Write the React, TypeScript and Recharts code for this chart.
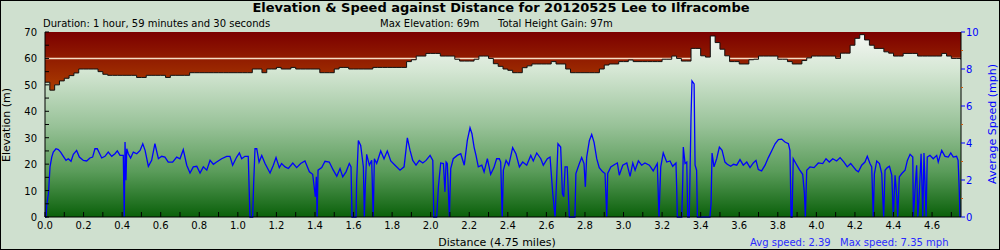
import { ComposedChart, Area, Line, XAxis, YAxis, CartesianGrid } from 'recharts'

const FONT = '"DejaVu Sans", Verdana, sans-serif'
const BLUE = '#0000ff'

// elevation (m) sampled every 0.025 miles from 0 to 4.75
const ELEV_STEP = 0.025
const elevationM = [
  51, 48, 50, 51.5, 52.5, 53.5, 54.5, 56, 56, 56,
  56, 55, 54, 53.6, 53.6, 53.6, 53.6, 53.6, 53.6, 52.8,
  52.8, 53.6, 53.6, 53.6, 53.6, 52.8, 53.6, 53.6, 53.6, 53.6,
  54.6, 54.6, 54.6, 54.6, 54.6, 54.6, 54.6, 54.6, 54.6, 54.6,
  54.6, 54.6, 54.6, 56, 56, 54.6, 56, 56, 56.6, 56,
  56, 56.6, 56, 56, 56, 56, 56, 54.6, 54.6, 54.6,
  56, 56.6, 56.6, 56, 56, 56, 56, 56, 56.6, 56.6,
  56.6, 56.6, 56.6, 56.6, 56.6, 58.8, 59.5, 60.9, 60.9, 61.9,
  61.9, 61.9, 60.9, 60.9, 60.9, 59.7, 59, 59, 59, 59.7,
  60.9, 60.9, 60, 58, 57, 56, 55.5, 54.6, 54.6, 56.5,
  57.2, 57.9, 57.9, 57.9, 57.9, 58.8, 57.9, 57.9, 56, 54.6,
  54.6, 54.6, 54.6, 54.6, 54.6, 56, 57.5, 57.9, 57.9, 58.8,
  58.8, 59.4, 58.8, 58.8, 58.8, 58.8, 58.8, 58.8, 59.7, 59.7,
  60.9, 60, 59, 59, 63.8, 63.8, 61, 60.5, 68.5, 66,
  63.5, 61, 58.8, 58.8, 57.9, 57.9, 59.5, 59.7, 60.9, 60.9,
  60.9, 60.9, 59.7, 59.7, 58.8, 57.9, 57.9, 59.2, 60.2, 60.9,
  60.9, 60.9, 60.9, 60.9, 60, 62, 62, 65, 67.6, 69,
  67, 65, 63.8, 63.8, 62.5, 62, 60.9, 60.9, 61.9, 61.9,
  61.9, 60.9, 60.9, 60.9, 60.9, 60.9, 61.9, 60.9, 60, 60,
  59.5,
]

// [distance (miles), average speed (mph)]
const speedTrack: [number, number][] = [
  [0, 0], [0.005, 0], [0.01, 0.73], [0.018, 1.27], [0.026, 2.71], [0.035, 3.24], [0.043, 3.51],
  [0.057, 3.69], [0.069, 3.64], [0.081, 3.51], [0.095, 3.28], [0.109, 3.06], [0.121, 3.15],
  [0.135, 3.01], [0.147, 3.39], [0.164, 3.6], [0.178, 3.24], [0.199, 3.06], [0.216, 3.03],
  [0.233, 3.19], [0.247, 3.24], [0.259, 3.69], [0.271, 3.69], [0.294, 3.19], [0.311, 3.28],
  [0.328, 3.51], [0.346, 3.28], [0.363, 3.42], [0.375, 3.57], [0.389, 3.33], [0.406, 3.33],
  [0.411, 0], [0.415, 4.05], [0.42, 1.99], [0.424, 3.69], [0.432, 3.42], [0.444, 3.19],
  [0.458, 3.51], [0.476, 3.42], [0.493, 3.6], [0.507, 3.96], [0.519, 3.6], [0.536, 2.74],
  [0.553, 3.06], [0.57, 3.96], [0.588, 3.15], [0.605, 3.28], [0.622, 3.24], [0.639, 2.97],
  [0.662, 2.97], [0.683, 3.24], [0.7, 3.15], [0.717, 3.64], [0.735, 2.8], [0.752, 2.38],
  [0.769, 2.71], [0.787, 2.74], [0.804, 2.38], [0.821, 2.71], [0.839, 2.53], [0.856, 3.06],
  [0.873, 2.85], [0.89, 2.97], [0.916, 3.15], [0.942, 3.28], [0.959, 3.28], [0.973, 2.8],
  [0.994, 3.24], [1.008, 3.46], [1.02, 3.15], [1.037, 3.28], [1.054, 3.28], [1.059, 1.4],
  [1.063, 0], [1.077, 0], [1.082, 1.81], [1.089, 3.69], [1.098, 3.69], [1.11, 2.97],
  [1.124, 3.33], [1.141, 2.89], [1.167, 2.38], [1.184, 2.8], [1.198, 3.21], [1.215, 2.67],
  [1.227, 2.89], [1.245, 2.71], [1.262, 2.62], [1.285, 2.92], [1.305, 2.67], [1.326, 2.89],
  [1.348, 3.03], [1.371, 2.44], [1.388, 2.31], [1.402, 1.09], [1.407, 2.17], [1.411, 0],
  [1.416, 2.53], [1.435, 2.67], [1.452, 3.01], [1.474, 2.97], [1.495, 2.53], [1.513, 2.2],
  [1.53, 2.62], [1.544, 2.17], [1.561, 2.44], [1.578, 2.89], [1.587, 2.71], [1.592, 0],
  [1.613, 0], [1.616, 1.9], [1.625, 4.14], [1.637, 3.87], [1.651, 2.71], [1.656, 0],
  [1.661, 1.63], [1.668, 3.39], [1.682, 2.8], [1.694, 3.06], [1.702, 0], [1.708, 3.15],
  [1.72, 2.89], [1.741, 3.57], [1.758, 3.15], [1.775, 3.57], [1.793, 3.03], [1.815, 2.8],
  [1.841, 2.53], [1.862, 2.71], [1.879, 4.28], [1.893, 3.6], [1.907, 3.06], [1.924, 2.8],
  [1.941, 3.06], [1.959, 2.92], [1.976, 3.06], [1.997, 3.33], [2.011, 3.06], [2.016, 0],
  [2.031, 0], [2.04, 1.63], [2.052, 2.92], [2.066, 2.89], [2.074, 1.36], [2.08, 2.97],
  [2.086, 2.89], [2.097, 0], [2.104, 2.62], [2.117, 3.15], [2.138, 3.33], [2.156, 3.42],
  [2.174, 2.8], [2.19, 4.14], [2.204, 4.82], [2.214, 4.5], [2.225, 3.78], [2.235, 3.33],
  [2.247, 2.71], [2.265, 2.8], [2.277, 2.44], [2.294, 3.15], [2.311, 2.31], [2.328, 2.67],
  [2.342, 3.15], [2.356, 3.15], [2.363, 2.97], [2.371, 0], [2.377, 2.53], [2.391, 3.06],
  [2.405, 2.8], [2.425, 3.75], [2.442, 3.42], [2.46, 2.71], [2.477, 2.97], [2.498, 2.8],
  [2.519, 3.33], [2.532, 3.03], [2.55, 3.46], [2.571, 3.15], [2.584, 2.8], [2.605, 3.15],
  [2.619, 3.24], [2.633, 1.27], [2.645, 0], [2.653, 1.99], [2.66, 3.96], [2.674, 3.78],
  [2.683, 1.27], [2.69, 1.09], [2.697, 2.71], [2.708, 2.71], [2.719, 0], [2.748, 0],
  [2.753, 2.35], [2.771, 2.89], [2.783, 3.21], [2.795, 2.89], [2.802, 1.63], [2.809, 3.24],
  [2.823, 4.14], [2.835, 4.46], [2.847, 4.05], [2.861, 3.15], [2.874, 2.67], [2.892, 2.44],
  [2.904, 2.35], [2.909, 1.09], [2.913, 0], [2.918, 2.35], [2.934, 2.71], [2.956, 2.85],
  [2.968, 2.92], [2.978, 2.26], [2.996, 2.8], [3.017, 2.92], [3.034, 2.2], [3.048, 2.92],
  [3.06, 2.53], [3.077, 3.03], [3.094, 2.8], [3.111, 2.92], [3.134, 2.8], [3.154, 2.49],
  [3.175, 2.89], [3.184, 0], [3.193, 2.71], [3.206, 3.46], [3.224, 2.97], [3.241, 3.03],
  [3.255, 2.74], [3.272, 2.92], [3.276, 1.45], [3.279, 0], [3.302, 0], [3.307, 1.9],
  [3.31, 3.78], [3.319, 2.89], [3.328, 2.97], [3.333, 0], [3.341, 0], [3.35, 5.39],
  [3.355, 7.35], [3.366, 7.19], [3.371, 2.8], [3.379, 2.53], [3.383, 0], [3.448, 0],
  [3.454, 0.73], [3.459, 3.46], [3.469, 2.71], [3.483, 3.15], [3.497, 3.78], [3.511, 3.6],
  [3.526, 2.97], [3.538, 2.85], [3.556, 2.74], [3.57, 2.85], [3.587, 2.8], [3.604, 3.1],
  [3.621, 2.8], [3.639, 2.97], [3.656, 2.67], [3.673, 2.92], [3.687, 3.06], [3.699, 2.56],
  [3.716, 2.49], [3.734, 2.8], [3.751, 3.21], [3.768, 3.57], [3.786, 3.96], [3.803, 4.18],
  [3.82, 4.21], [3.837, 4.05], [3.855, 3.96], [3.863, 3.6], [3.869, 0], [3.874, 0],
  [3.88, 3.15], [3.894, 2.89], [3.912, 2.56], [3.929, 2.31], [3.938, 1.27], [3.943, 0],
  [3.95, 2.53], [3.967, 2.71], [3.988, 2.67], [4.01, 2.92], [4.033, 2.89], [4.05, 3.15],
  [4.067, 2.97], [4.085, 3.15], [4.105, 3.03], [4.123, 3.21], [4.143, 2.97], [4.16, 2.71],
  [4.178, 2.89], [4.192, 2.71], [4.206, 2.53], [4.218, 2.44], [4.235, 2.8], [4.252, 2.97],
  [4.264, 3.28], [4.278, 2.89], [4.287, 2.71], [4.292, 1.0], [4.295, 0], [4.301, 2.35],
  [4.313, 3.03], [4.327, 2.89], [4.339, 2.35], [4.344, 1.09], [4.349, 0], [4.356, 2.53],
  [4.368, 2.67], [4.379, 2.74], [4.391, 2.26], [4.399, 0], [4.408, 2.26], [4.417, 1.09],
  [4.422, 0], [4.43, 2.17], [4.443, 2.35], [4.46, 2.53], [4.472, 3.06], [4.486, 3.39],
  [4.5, 3.24], [4.503, 0], [4.517, 2.35], [4.52, 2.8], [4.526, 0], [4.534, 1.27],
  [4.543, 3.42], [4.552, 0], [4.558, 3.46], [4.569, 0], [4.575, 3.24], [4.589, 3.33],
  [4.606, 3.15], [4.624, 3.33], [4.632, 2.97], [4.65, 3.6], [4.667, 3.28], [4.684, 3.24],
  [4.697, 3.46], [4.71, 3.24], [4.727, 3.28], [4.735, 3.06], [4.741, 1.45], [4.745, 0],
]

const distanceTicks = [
  0, 0.1, 0.2, 0.3, 0.4, 0.5, 0.6, 0.7, 0.8, 0.9, 1.0, 1.1, 1.2, 1.3, 1.4, 1.5,
  1.6, 1.7, 1.8, 1.9, 2.0, 2.1, 2.2, 2.3, 2.4, 2.5, 2.6, 2.7, 2.8, 2.9, 3.0, 3.1,
  3.2, 3.3, 3.4, 3.5, 3.6, 3.7, 3.8, 3.9, 4.0, 4.1, 4.2, 4.3, 4.4, 4.5, 4.6, 4.7,
]
const elevationTicks = [0, 5, 10, 15, 20, 25, 30, 35, 40, 45, 50, 55, 60, 65, 70]
const speedTicks = [0, 1, 2, 3, 4, 5, 6, 7, 8, 9, 10]
const refElevation = 60
const totalDistance = 4.75

const elevationData = elevationM.map((elev, i) => ({ dist: +(i * ELEV_STEP).toFixed(3), elev }))
const speedData = speedTrack.map(([dist, mph]) => ({ dist, mph }))
const refData = [
  { dist: 0, ref: refElevation },
  { dist: totalDistance, ref: refElevation },
]

function DistTick({ x, y, payload }: any) {
  const v = payload.value as number
  const labelled = Math.round(v * 10) % 2 === 0
  return (
    <g>
      <line x1={x} y1={y} x2={x} y2={y - 5} stroke="#000" />
      {labelled && (
        <text x={x} y={y + 12} textAnchor="middle" fontSize={10} fontFamily={FONT} fill="#000">
          {v.toFixed(1)}
        </text>
      )}
    </g>
  )
}

function ElevTick({ x, y, payload }: any) {
  const v = payload.value as number
  return (
    <g>
      <line x1={x} y1={y} x2={x + 4} y2={y} stroke="#000" />
      {v % 10 === 0 && (
        <text x={x - 8} y={y + 4} textAnchor="end" fontSize={10} fontFamily={FONT} fill="#000">
          {v}
        </text>
      )}
    </g>
  )
}

function SpeedTick({ x, y, payload }: any) {
  const v = payload.value as number
  const labelled = v % 2 === 0
  return (
    <g>
      <line x1={x} y1={y} x2={x + (labelled ? 4 : 2)} y2={y} stroke={labelled ? BLUE : '#c85a10'} />
      {labelled && (
        <text x={x + 5} y={y + 4} textAnchor="start" fontSize={10} fontFamily={FONT} fill={BLUE}>
          {v}
        </text>
      )}
    </g>
  )
}

export default function App() {
  return (
    <div style={{ position: 'relative', width: 1000, height: 250, background: '#cfe0cf' }}>
      <style>{'body{margin:0}'}</style>
      <ComposedChart
        width={1000}
        height={250}
        margin={{ top: 32, right: 0, bottom: 0, left: 0 }}
        style={{ position: 'absolute', left: 0, top: 0 }}
      >
        <defs>
          <linearGradient id="plotRed" x1="0" y1="0" x2="0" y2="1">
            <stop offset="0%" stopColor="#7c0000" />
            <stop offset="30%" stopColor="#a83a00" />
            <stop offset="100%" stopColor="#d07000" />
          </linearGradient>
          <linearGradient id="elevGreen" x1="0" y1="0" x2="0" y2="1">
            <stop offset="0%" stopColor="#f4f7f3" />
            <stop offset="20%" stopColor="#d4e6d3" />
            <stop offset="50%" stopColor="#98c298" />
            <stop offset="75%" stopColor="#5a9c5a" />
            <stop offset="100%" stopColor="#0a600a" />
          </linearGradient>
        </defs>
        <CartesianGrid
          xAxisId="dist"
          yAxisId="elev"
          horizontal={false}
          vertical={false}
          fill="url(#plotRed)"
          fillOpacity={1}
        />
        <XAxis
          xAxisId="dist"
          dataKey="dist"
          type="number"
          domain={[0, totalDistance]}
          allowDataOverflow
          ticks={distanceTicks}
          interval={0}
          height={33}
          tickSize={0}
          tickMargin={0}
          tick={<DistTick />}
          axisLine={{ stroke: '#000' }}
        />
        <XAxis
          xAxisId="top"
          orientation="top"
          type="number"
          domain={[0, totalDistance]}
          allowDataOverflow
          height={0}
          tick={false}
          tickLine={false}
          axisLine={{ stroke: '#000' }}
        />
        <YAxis
          yAxisId="elev"
          orientation="left"
          type="number"
          domain={[0, 70]}
          ticks={elevationTicks}
          interval={0}
          width={45}
          tickSize={0}
          tickMargin={0}
          tick={<ElevTick />}
          axisLine={{ stroke: '#000' }}
        />
        <YAxis
          yAxisId="speed"
          orientation="right"
          type="number"
          domain={[0, 10]}
          ticks={speedTicks}
          interval={0}
          width={39}
          tickSize={0}
          tickMargin={0}
          tick={<SpeedTick />}
          axisLine={{ stroke: '#000' }}
        />
        <Area
          data={refData}
          xAxisId="dist"
          yAxisId="elev"
          dataKey="ref"
          type="linear"
          stroke="#f6dcc4"
          strokeWidth={1.5}
          fill="none"
          dot={false}
          activeDot={false}
          isAnimationActive={false}
        />
        <Area
          data={elevationData}
          xAxisId="dist"
          yAxisId="elev"
          dataKey="elev"
          type="stepAfter"
          stroke="#111"
          strokeWidth={1}
          fill="url(#elevGreen)"
          fillOpacity={1}
          dot={false}
          activeDot={false}
          isAnimationActive={false}
        />
        <Line
          data={speedData}
          xAxisId="dist"
          yAxisId="speed"
          dataKey="mph"
          type="linear"
          stroke={BLUE}
          strokeWidth={1.3}
          dot={false}
          activeDot={false}
          isAnimationActive={false}
        />
      </ComposedChart>
      <svg
        width={1000}
        height={250}
        style={{ position: 'absolute', left: 0, top: 0, pointerEvents: 'none' }}
        fontFamily={FONT}
      >
        <text x={501} y={12} textAnchor="middle" fontSize={13} fontWeight="bold" fill="#000">
          Elevation &amp; Speed against Distance for 20120525 Lee to Ilfracombe
        </text>
        <text x={43} y={26.5} fontSize={10} fill="#000">
          Duration: 1 hour, 59 minutes and 30 seconds
        </text>
        <text x={380} y={26.5} fontSize={10} fill="#000">
          Max Elevation: 69m
        </text>
        <text x={498} y={26.5} fontSize={10} fill="#000">
          Total Height Gain: 97m
        </text>
        <text x={497} y={246} textAnchor="middle" fontSize={11} fill="#000">
          Distance (4.75 miles)
        </text>
        <text x={750} y={246} fontSize={10} fill="#2a2aff">
          Avg speed: 2.39
        </text>
        <text x={840} y={246} fontSize={10} fill="#2a2aff">
          Max speed: 7.35 mph
        </text>
        <text
          x={0}
          y={0}
          transform="translate(10,125) rotate(-90)"
          textAnchor="middle"
          fontSize={11}
          fill="#000"
        >
          Elevation (m)
        </text>
        <text
          x={0}
          y={0}
          transform="translate(996,124) rotate(-90)"
          textAnchor="middle"
          fontSize={11}
          fill={BLUE}
        >
          Average Speed (mph)
        </text>
      </svg>
      <div
        style={{
          position: 'absolute',
          left: 0,
          top: 0,
          width: 1000,
          height: 250,
          boxSizing: 'border-box',
          border: '1px solid #000',
          pointerEvents: 'none',
        }}
      />
    </div>
  )
}
